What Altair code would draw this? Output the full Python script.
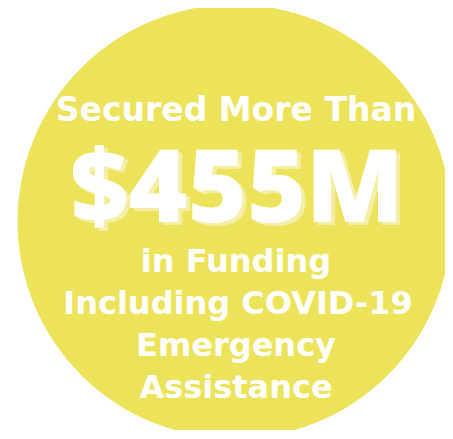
import altair as alt
import pandas as pd

# circle centre (image-pixel units)
circle_x = [234.5]
circle_y = [221.5]

lines = ["Secured More Than", "$455M", "in Funding", "Including COVID-19", "Emergency", "Assistance"]
line_x = [236, 237, 236, 238, 236, 236]
line_y = [121, 222, 272, 314, 356, 398]

W, H = 437, 422
R = 217.0
SIZES = [33, 101, 32, 32, 32, 32]
FONTS = ["DejaVu Sans", "Open Sans", "DejaVu Sans", "DejaVu Sans", "DejaVu Sans", "DejaVu Sans"]
WEIGHTS = ["bold", 800, "bold", "bold", "bold", "bold"]

xs = alt.Scale(domain=[8, 8 + W], range=[0, W])
ys = alt.Scale(domain=[8, 8 + H], range=[0, H])

cdf = pd.DataFrame({"x": circle_x, "y": circle_y})
circle = alt.Chart(cdf).mark_circle(color="#ECE35A", opacity=1, size=4 * R * R).encode(
    x=alt.X("x:Q", scale=xs, axis=None),
    y=alt.Y("y:Q", scale=ys, axis=None),
)

tdf = pd.DataFrame({"t": lines, "x": line_x, "y": line_y})

layers = [circle]
for i, t in enumerate(lines):
    d = tdf.iloc[[i]]
    if t == "$455M":
        layers.append(alt.Chart(d).mark_text(
            font=FONTS[i], fontWeight=WEIGHTS[i], color="#F4EEA6", baseline="alphabetic",
            align="center", dx=4, dy=3, fontSize=SIZES[i]
        ).encode(x=alt.X("x:Q", scale=xs, axis=None), y=alt.Y("y:Q", scale=ys, axis=None), text="t:N"))
    layers.append(alt.Chart(d).mark_text(
        font=FONTS[i], fontWeight=WEIGHTS[i], color="white", baseline="alphabetic",
        align="center", fontSize=SIZES[i]
    ).encode(x=alt.X("x:Q", scale=xs, axis=None), y=alt.Y("y:Q", scale=ys, axis=None), text="t:N"))

chart = alt.layer(*layers).properties(
    width=W, height=H, padding=0, autosize=alt.AutoSizeParams(type="none"), background="white"
).configure_view(stroke=None)

chart.save("out.html", embed_options={"renderer": "svg", "actions": False})
